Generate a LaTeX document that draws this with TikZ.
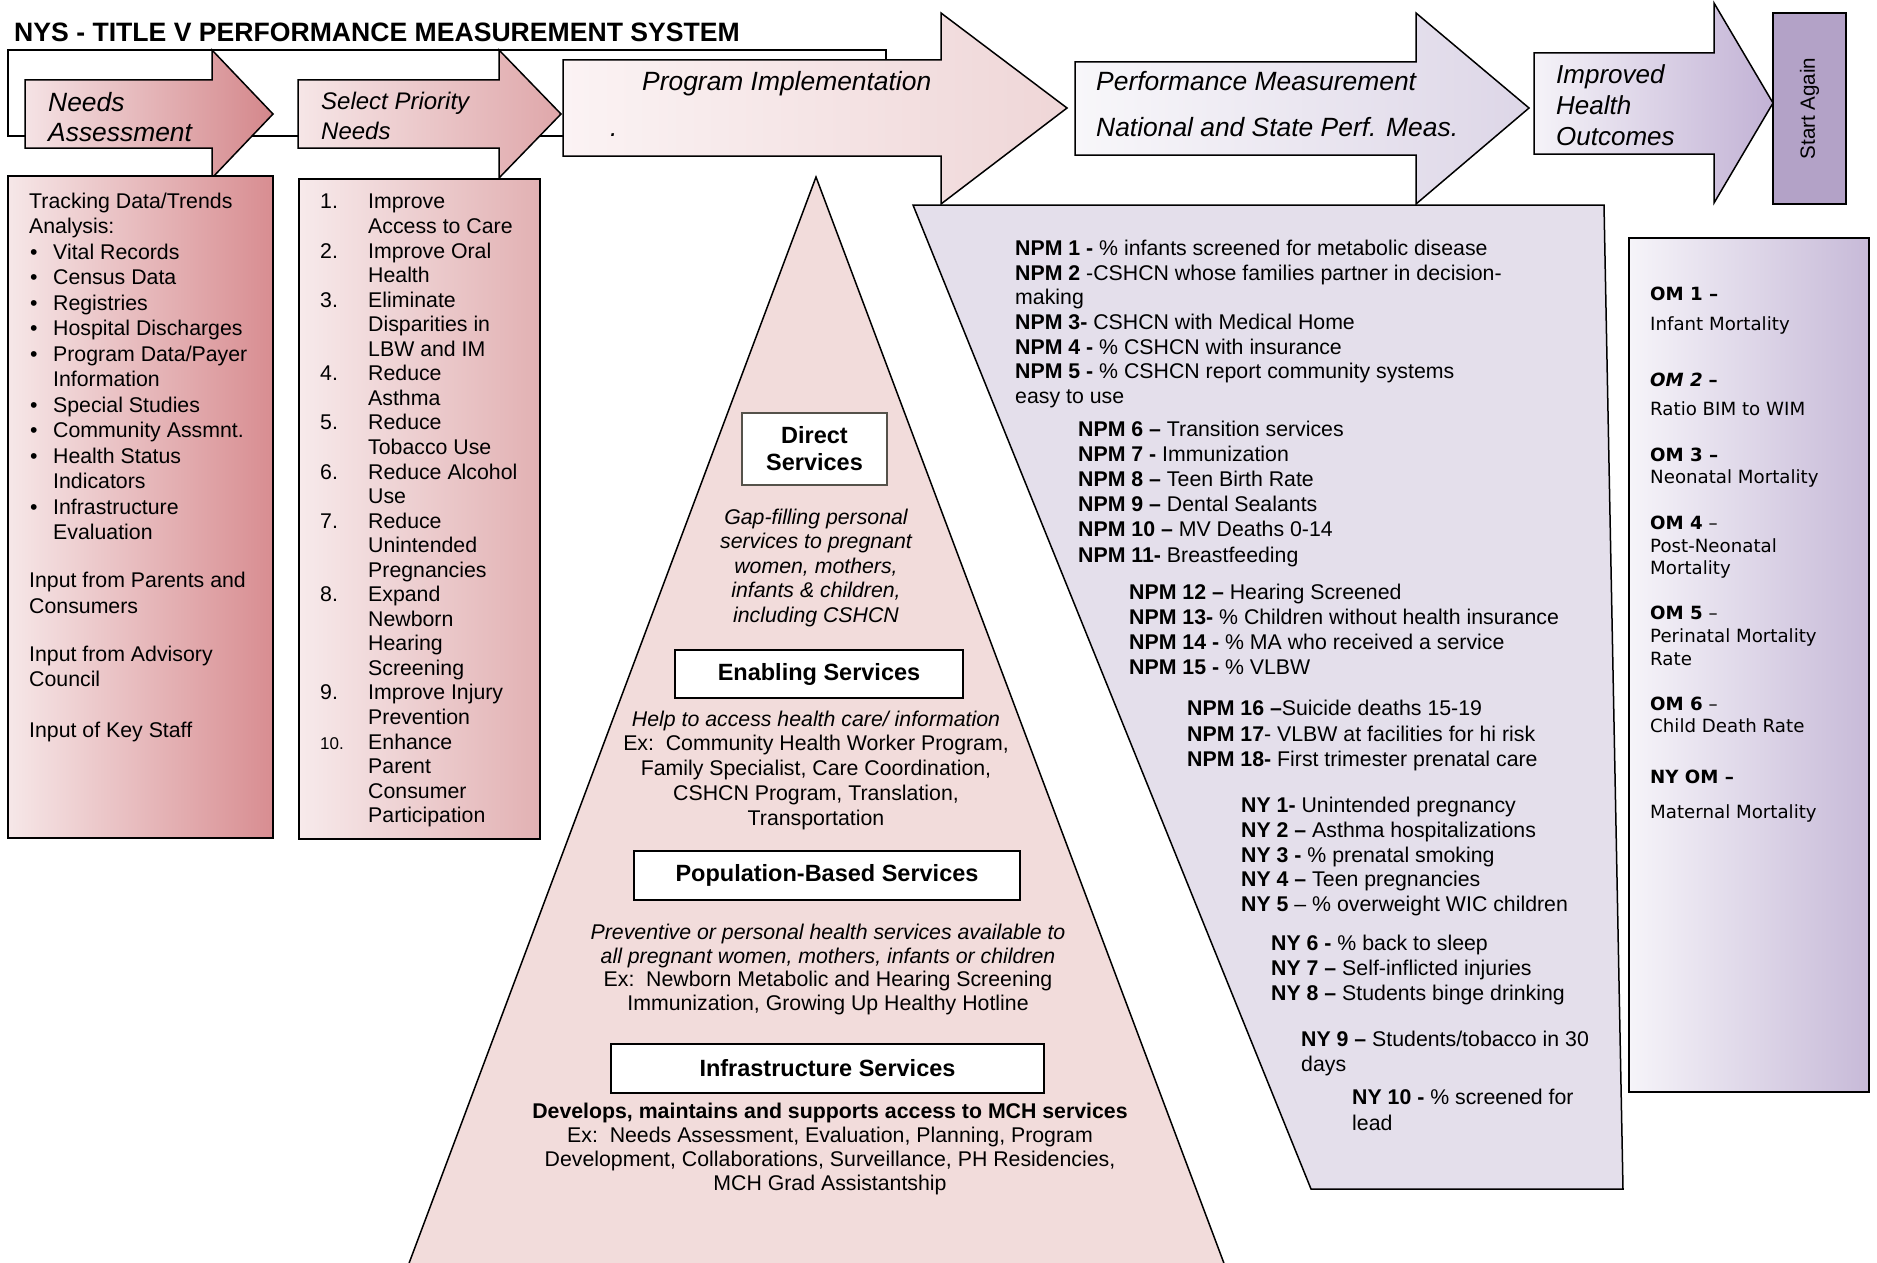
\documentclass[tikz,border=0pt]{standalone}
\usepackage{fontspec}
\setmainfont{Liberation Sans}
\newfontfamily\verd{DejaVu Sans}
\newcommand\fsz[2]{\fontsize{#1}{#2}\selectfont}
\newcommand\bul{\makebox[24pt][l]{\hspace*{1pt}\textbullet}}
\newcommand\lind{\hspace*{24pt}}
\newcommand\nbx[1]{\makebox[48pt][l]{#1}}
\newcommand\sind{\hspace*{48pt}}
\definecolor{na1}{HTML}{F5E3E5}\definecolor{na2}{HTML}{D4878B}
\definecolor{nb1}{HTML}{F6E7E8}\definecolor{nb2}{HTML}{D88D91}
\definecolor{sa1}{HTML}{F6E6E7}\definecolor{sa2}{HTML}{DFA7AA}
\definecolor{sb1}{HTML}{F7EAEB}\definecolor{sb2}{HTML}{E2B1B3}
\definecolor{pa1}{HTML}{FBF3F4}\definecolor{pa2}{HTML}{EFD6D7}
\definecolor{pyr}{HTML}{F2DCDB}
\definecolor{pm1}{HTML}{F8F7FA}\definecolor{pm2}{HTML}{DDD6E7}
\definecolor{npmc}{HTML}{E4DFEB}
\definecolor{ih1}{HTML}{F5F3F8}\definecolor{ih2}{HTML}{C2B2D5}
\definecolor{om1}{HTML}{F6F4F9}\definecolor{om2}{HTML}{C7BAD8}
\definecolor{startc}{HTML}{B3A2C7}
\definecolor{dbox}{HTML}{55524A}
\tikzset{
  ol/.style={draw=black, line width=1.5pt},
  txt/.style={inner sep=0pt, align=left},
  ctxt/.style={inner sep=0pt, align=center},
  arrlab/.style={txt, font=\itshape\fsz{26.4}{30}},
  body/.style={txt, font=\fsz{21.3}{25.5}},
  npm/.style={txt, font=\fsz{21.3}{24.8}},
  om/.style={inner sep=0pt, anchor=base west, font=\verd\fsz{18.2}{22}},
  svcbox/.style={draw=black, line width=1.5pt, fill=white, inner sep=0pt, font=\bfseries\fsz{23.5}{27}, align=center},
  ptxt/.style={ctxt, font=\fsz{21.3}{24.5}}
}
\begin{document}
\begin{tikzpicture}[x=1pt,y=-1pt,line join=miter]
\useasboundingbox (0,0) rectangle (1877,1263);
\fill[white] (0,0) rectangle (1877,1263);

% backdrop line of the process
\draw[ol] (8,50) rectangle (886,136);

% process arrows
\path[ol, left color=na1, right color=na2] (25,80) -- (212,80) -- (212,50) -- (273,114) -- (212,178) -- (212,148) -- (25,148) -- cycle;
\path[ol, left color=sa1, right color=sa2] (298,80) -- (499,80) -- (499,50) -- (561,114) -- (499,178) -- (499,148) -- (298,148) -- cycle;
\path[ol, left color=pa1, right color=pa2] (563,60) -- (941,60) -- (941,13) -- (1067,108) -- (941,204) -- (941,156) -- (563,156) -- cycle;
\path[ol, left color=pm1, right color=pm2] (1075,62) -- (1416,62) -- (1416,13) -- (1529,108) -- (1416,204) -- (1416,155) -- (1075,155) -- cycle;
\path[ol, left color=ih1, right color=ih2] (1534,53) -- (1714,53) -- (1714,3) -- (1773,103) -- (1714,203) -- (1714,154) -- (1534,154) -- cycle;
\path[ol, fill=startc] (1773,13) rectangle (1846,204);

% title
\node[txt, anchor=base west, font=\bfseries\fsz{26.6}{30}] (title) at (14,42) {NYS - TITLE V PERFORMANCE MEASUREMENT SYSTEM};

% arrow labels (anchor = baseline of last line)
\node[arrlab, anchor=base west] (lneeds) at (48,141) {Needs\\Assessment};
\node[txt, anchor=base west, font=\itshape\fsz{24}{29}] (lsel) at (321,139) {Select Priority\\Needs};
\node[arrlab, anchor=base west] (lprog) at (642,90) {Program Implementation};
\node[arrlab, anchor=base west] (ldot) at (610,136) {.};
\node[txt, anchor=base west, font=\itshape\fsz{26.4}{46}] (lperf) at (1096,136) {Performance Measurement\\National and State Perf. Meas.};
\node[txt, anchor=base west, font=\itshape\fsz{26}{31}] (limp) at (1556,145) {Improved\\Health\\Outcomes};
\node[inner sep=0pt, rotate=90, font=\fsz{20.6}{24}] (lstart) at (1809.5,108.5) {Start Again};

% left boxes
\path[ol, left color=nb1, right color=nb2] (8,176) rectangle (273,838);
\path[ol, left color=sb1, right color=sb2] (299,179) rectangle (540,839);

\node[body, anchor=base west] (natext) at (29,737) {Tracking Data/Trends\\ Analysis:\\ \bul Vital Records\\ \bul Census Data\\ \bul Registries\\ \bul Hospital Discharges\\ \bul Program Data/Payer\\ \lind Information\\ \bul Special Studies\\ \bul Community Assmnt.\\ \bul Health Status\\ \lind Indicators\\ \bul Infrastructure\\ \lind Evaluation\\[22.5pt] Input from Parents and\\ Consumers\\[22.5pt] Input from Advisory\\ Council\\[25pt] Input of Key Staff};

\node[txt, anchor=base west, font=\fsz{21.3}{24.55}] (seltext) at (320,822.7) {\nbx{1.}Improve\\ \sind Access to Care\\ \nbx{2.}Improve Oral\\ \sind Health\\ \nbx{3.}Eliminate\\ \sind Disparities in\\ \sind LBW and IM\\ \nbx{4.}Reduce\\ \sind Asthma\\ \nbx{5.}Reduce\\ \sind Tobacco Use\\ \nbx{6.}Reduce Alcohol\\ \sind Use\\ \nbx{7.}Reduce\\ \sind Unintended\\ \sind Pregnancies\\ \nbx{8.}Expand\\ \sind Newborn\\ \sind Hearing\\ \sind Screening\\ \nbx{9.}Improve Injury\\ \sind Prevention\\ \nbx{{\fsz{17}{17}10.}}Enhance\\ \sind Parent\\ \sind Consumer\\ \sind Participation};

% pyramid
\path[ol, fill=pyr] (816,177) -- (1225,1266) -- (408,1266) -- cycle;
\node[svcbox, draw=dbox, line width=2pt, minimum width=145pt, minimum height=72pt] (direct) at (814.5,449) {Direct\\Services};
\node[ptxt, anchor=base, font=\itshape\fsz{21.3}{24.5}] (gap) at (816,622) {Gap-filling personal\\services to pregnant\\women, mothers,\\infants \& children,\\including CSHCN};
\node[svcbox, minimum width=288pt, minimum height=48pt] (enab) at (819,674) {Enabling Services};
\node[ptxt, anchor=base, font=\fsz{21.3}{24.75}] (enabt) at (816,825) {\textit{Help to access health care/ information}\\Ex:\ \ Community Health Worker Program,\\Family Specialist, Care Coordination,\\CSHCN Program, Translation,\\Transportation};
\node[svcbox, minimum width=386pt, minimum height=49pt] (popb) at (827,875.5) {Population-Based Services};
\node[ptxt, anchor=base, font=\fsz{21.3}{23.7}] (popt) at (828,1010.6) {\textit{Preventive or personal health services available to}\\\textit{all pregnant women, mothers, infants or children}\\Ex:\ \ Newborn Metabolic and Hearing Screening\\Immunization, Growing Up Healthy Hotline};
\node[svcbox, minimum width=433pt, minimum height=49pt] (infb) at (827.5,1068.5) {Infrastructure Services};
\node[ptxt, anchor=base, font=\fsz{21.3}{24}] (inft) at (830,1190.5) {\textbf{Develops, maintains and supports access to MCH services}\\Ex:\ \ Needs Assessment, Evaluation, Planning, Program\\Development, Collaborations, Surveillance, PH Residencies,\\MCH Grad Assistantship};

% performance measures trapezoid
\path[ol, fill=npmc] (913,205) -- (1604,205) -- (1623,1189) -- (1311,1189) -- cycle;
\node[npm, anchor=base west, font=\fsz{21.3}{24.67}] (g1) at (1015,403.5) {\textbf{NPM 1 -} \% infants screened for metabolic disease\\ \textbf{NPM 2} -CSHCN whose families partner in decision-\\ making\\ \textbf{NPM 3-} CSHCN with Medical Home\\ \textbf{NPM 4 -} \% CSHCN with insurance\\ \textbf{NPM 5 -} \% CSHCN report community systems\\ easy to use};
\node[npm, anchor=base west, font=\fsz{21.3}{25.2}] (g2) at (1078,562) {\textbf{NPM 6 –} Transition services\\ \textbf{NPM 7 -} Immunization\\ \textbf{NPM 8 –} Teen Birth Rate\\ \textbf{NPM 9 –} Dental Sealants\\ \textbf{NPM 10 –} MV Deaths 0-14\\ \textbf{NPM 11-} Breastfeeding};
\node[npm, anchor=base west, font=\fsz{21.3}{25}] (g3) at (1129,674.5) {\textbf{NPM 12 –} Hearing Screened\\ \textbf{NPM 13-} \% Children without health insurance\\ \textbf{NPM 14 -} \% MA who received a service\\ \textbf{NPM 15 -} \% VLBW};
\node[npm, anchor=base west, font=\fsz{21.3}{25.5}] (g4) at (1187,766.5) {\textbf{NPM 16 –}Suicide deaths 15-19\\ \textbf{NPM 17}- VLBW at facilities for hi risk\\ \textbf{NPM 18-} First trimester prenatal care};
\node[npm, anchor=base west, font=\fsz{21.3}{24.75}] (g5) at (1241,911.5) {\textbf{NY 1-} Unintended pregnancy\\ \textbf{NY 2 –} Asthma hospitalizations\\ \textbf{NY 3 -} \% prenatal smoking\\ \textbf{NY 4 –} Teen pregnancies\\ \textbf{NY 5} – \% overweight WIC children};
\node[npm, anchor=base west, font=\fsz{21.3}{25}] (g6) at (1271,1000.5) {\textbf{NY 6 -} \% back to sleep\\ \textbf{NY 7 –} Self-inflicted injuries\\ \textbf{NY 8 –} Students binge drinking};
\node[npm, anchor=base west, font=\fsz{21.3}{25}] (g7) at (1301,1071.5) {\textbf{NY 9 –} Students/tobacco in 30\\ days};
\node[npm, anchor=base west, font=\fsz{21.3}{25.5}] (g8) at (1352,1130) {\textbf{NY 10 -} \% screened for\\ lead};

% outcome measures box
\path[ol, left color=om1, right color=om2] (1629,238) rectangle (1869,1092);
\node[om] (om1a) at (1650,300.5) {\textbf{OM 1 –}};
\node[om] (om1b) at (1650,330) {Infant Mortality};
\node[om] (om2a) at (1650,386) {\textbf{\textit{OM 2}} \textbf{–}};
\node[om] (om2b) at (1650,415.5) {Ratio BIM to WIM};
\node[om] (om3a) at (1650,461.5) {\textbf{OM 3 –}};
\node[om] (om3b) at (1650,483) {Neonatal Mortality};
\node[om] (om4a) at (1650,529.5) {\textbf{OM 4} –};
\node[om] (om4b) at (1650,552) {Post-Neonatal};
\node[om] (om4c) at (1650,574) {Mortality};
\node[om] (om5a) at (1650,619.5) {\textbf{OM 5} –};
\node[om] (om5b) at (1650,642) {Perinatal Mortality};
\node[om] (om5c) at (1650,665) {Rate};
\node[om] (om6a) at (1650,710.5) {\textbf{OM 6} –};
\node[om] (om6b) at (1650,732) {Child Death Rate};
\node[om] (omnya) at (1650,783.5) {\textbf{NY OM –}};
\node[om] (omnyb) at (1650,818.5) {Maternal Mortality};
\end{tikzpicture}
\end{document}
